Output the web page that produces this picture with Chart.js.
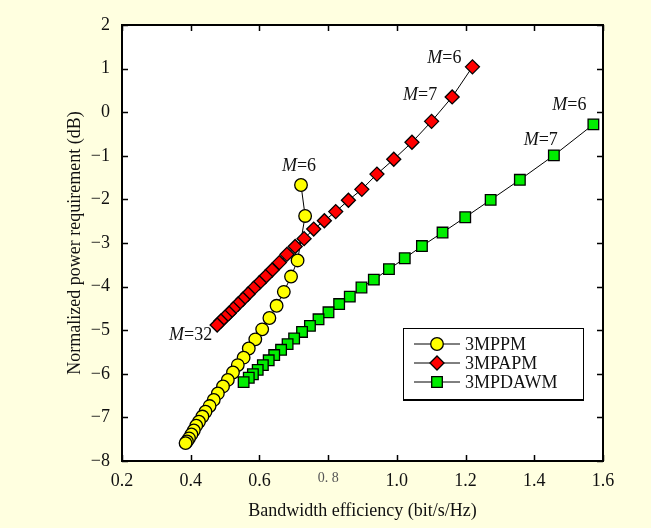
<!DOCTYPE html>
<html><head><meta charset="utf-8">
<script src="https://cdn.jsdelivr.net/npm/chart.js@4"></script>
<style>html,body{margin:0;padding:0;background:#ffffe0;}canvas{display:block;}</style>
</head><body>
<canvas id="c" width="651" height="528"></canvas>
<script>
// ---- data (M = 6 ... 32) ----
const seriesNames = ['3MPPM', '3MPAPM', '3MPDAWM'];
const ppmX = [0.721, 0.733, 0.711, 0.692, 0.671, 0.650, 0.629, 0.608, 0.588, 0.569, 0.554, 0.537, 0.523, 0.508, 0.494, 0.479, 0.467, 0.455, 0.443, 0.434, 0.424, 0.416, 0.409, 0.402, 0.395, 0.389, 0.385];
const ppmY = [-1.67, -2.38, -3.40, -3.77, -4.12, -4.44, -4.72, -4.98, -5.21, -5.42, -5.63, -5.80, -5.97, -6.14, -6.29, -6.45, -6.60, -6.74, -6.87, -6.98, -7.10, -7.19, -7.30, -7.39, -7.48, -7.55, -7.59];
const apmX = [1.220, 1.161, 1.101, 1.044, 0.991, 0.942, 0.898, 0.859, 0.822, 0.789, 0.758, 0.730, 0.704, 0.680, 0.658, 0.637, 0.618, 0.600, 0.583, 0.567, 0.552, 0.538, 0.524, 0.512, 0.500, 0.488, 0.477];
const apmY = [1.04, 0.35, -0.21, -0.69, -1.08, -1.42, -1.77, -2.02, -2.28, -2.49, -2.68, -2.90, -3.08, -3.26, -3.45, -3.62, -3.77, -3.91, -4.04, -4.17, -4.29, -4.40, -4.51, -4.61, -4.70, -4.79, -4.88];
const dawX = [1.572, 1.457, 1.358, 1.273, 1.199, 1.133, 1.073, 1.023, 0.977, 0.933, 0.897, 0.863, 0.832, 0.801, 0.772, 0.747, 0.724, 0.701, 0.682, 0.663, 0.643, 0.627, 0.610, 0.595, 0.581, 0.569, 0.554];
const dawY = [-0.28, -0.99, -1.55, -2.01, -2.41, -2.76, -3.07, -3.35, -3.60, -3.84, -4.02, -4.23, -4.40, -4.59, -4.75, -4.90, -5.04, -5.19, -5.32, -5.45, -5.57, -5.69, -5.80, -5.91, -6.01, -6.09, -6.19];
const xTickLabels = ['0.2', '0.4', '0.6', '0. 8', '1.0', '1.2', '1.4', '1.6'];
const yTickLabels = ['−8', '−7', '−6', '−5', '−4', '−3', '−2', '−1', '0', '1', '2'];
const xTitle = 'Bandwidth efficiency (bit/s/Hz)';
const yTitle = 'Normalized power requirement (dB)';
const notes = [
  {ds: 0, i: 0, n: '6', dx: -2, dy: -19, align: 'center'},
  {ds: 1, i: 0, n: '6', dx: -11, dy: -9, align: 'right'},
  {ds: 1, i: 1, n: '7', dx: -15, dy: -2, align: 'right'},
  {ds: 1, i: 26, n: '32', dx: -5, dy: 10, align: 'right'},
  {ds: 2, i: 0, n: '6', dx: -7, dy: -19, align: 'right'},
  {ds: 2, i: 1, n: '7', dx: 4, dy: -15, align: 'right'}
];

const SERIF = "'Liberation Serif','Times New Roman',serif";
const pts = (xs, ys) => xs.map((x, k) => ({x: x, y: ys[k]}));

const framePlugin = {
  id: 'frame',
  beforeDraw(chart) {
    const {ctx, chartArea: a, width, height} = chart;
    ctx.save();
    ctx.fillStyle = '#ffffe0';
    ctx.fillRect(0, 0, width, height);
    ctx.fillStyle = '#ffffff';
    ctx.fillRect(a.left, a.top, a.right - a.left, a.bottom - a.top);
    ctx.restore();
  },
  afterDraw(chart) {
    const {ctx, chartArea: a, scales} = chart;
    ctx.save();
    ctx.strokeStyle = '#000';
    ctx.lineWidth = 1.5;
    const L = 6;
    ctx.beginPath();
    scales.x.ticks.forEach((t, k) => {
      const px = Math.round(scales.x.getPixelForTick(k)) + 0.5;
      ctx.moveTo(px, a.bottom); ctx.lineTo(px, a.bottom - L);
      ctx.moveTo(px, a.top); ctx.lineTo(px, a.top + L);
    });
    scales.y.ticks.forEach((t, k) => {
      const py = Math.round(scales.y.getPixelForTick(k)) + 0.5;
      ctx.moveTo(a.left, py); ctx.lineTo(a.left + L, py);
      ctx.moveTo(a.right, py); ctx.lineTo(a.right - L, py);
    });
    ctx.stroke();
    ctx.lineWidth = 2;
    ctx.strokeRect(a.left, a.top, a.right - a.left, a.bottom - a.top);

    // annotations
    ctx.fillStyle = '#111';
    ctx.textBaseline = 'middle';
    notes.forEach(nt => {
      const el = chart.getDatasetMeta(nt.ds).data[nt.i];
      const fI = 'italic 18px ' + SERIF, fR = '18px ' + SERIF;
      ctx.font = fI; const wM = ctx.measureText('M').width;
      ctx.font = fR; const wN = ctx.measureText('=' + nt.n).width;
      const w = wM + wN;
      let x0 = el.x + nt.dx;
      if (nt.align === 'right') x0 -= w; else if (nt.align === 'center') x0 -= w / 2;
      const y0 = el.y + nt.dy;
      ctx.textAlign = 'left';
      ctx.font = fI; ctx.fillText('M', x0, y0);
      ctx.font = fR; ctx.fillText('=' + nt.n, x0 + wM, y0);
    });

    // legend
    const lx = a.right - 200, ly = a.top + 303, lw = 180, lh = 72;
    ctx.fillStyle = '#fff';
    ctx.fillRect(lx, ly, lw, lh);
    ctx.lineWidth = 1;
    ctx.strokeStyle = '#000';
    ctx.strokeRect(lx + 0.5, ly + 0.5, lw, lh);
    ctx.lineWidth = 2;
    ctx.beginPath(); ctx.moveTo(lx, ly + lh); ctx.lineTo(lx + lw, ly + lh); ctx.stroke();
    chart.data.datasets.forEach((ds, k) => {
      const ry = ly + 16 + k * 19;
      ctx.lineWidth = 1;
      ctx.strokeStyle = '#000';
      ctx.beginPath(); ctx.moveTo(lx + 11, ry); ctx.lineTo(lx + 57, ry); ctx.stroke();
      ctx.fillStyle = ds.pointBackgroundColor;
      ctx.strokeStyle = '#000';
      ctx.lineWidth = ds.pointBorderWidth;
      Chart.helpers.drawPoint(ctx, {pointStyle: ds.pointStyle, rotation: 0, radius: ds.pointRadius, borderWidth: ds.pointBorderWidth}, lx + 34, ry);
      ctx.fillStyle = '#111';
      ctx.font = '18px ' + SERIF;
      ctx.textAlign = 'left';
      ctx.textBaseline = 'middle';
      ctx.fillText(ds.label, lx + 62, ry + 1);
    });
    ctx.restore();
  }
};

const mk = (label, xs, ys, style, r, bg, order) => ({
  label: label, data: pts(xs, ys), showLine: true, borderColor: '#000', borderWidth: 1,
  pointStyle: style, pointRadius: r, pointBackgroundColor: bg, pointBorderColor: '#000',
  pointBorderWidth: 1.3, order: order
});

Chart.defaults.font.family = SERIF;
Chart.defaults.color = '#111';

new Chart(document.getElementById('c'), {
  type: 'scatter',
  data: {
    datasets: [
      mk(seriesNames[0], ppmX, ppmY, 'circle', 6.3, '#ffff00', 3),
      mk(seriesNames[1], apmX, apmY, 'rectRot', 7, '#ff0000', 1),
      mk(seriesNames[2], dawX, dawY, 'rect', 7.5, '#00ee00', 2)
    ]
  },
  options: {
    responsive: false,
    animation: false,
    events: [],
    layout: {padding: {top: 25, right: 48, left: 0, bottom: 0}},
    plugins: {legend: {display: false}, tooltip: {enabled: false}},
    scales: {
      x: {
        type: 'linear', min: 0.2, max: 1.6,
        grid: {display: false, drawTicks: false},
        border: {display: false},
        afterFit: s => { s.height = 67; },
        ticks: {
          stepSize: 0.2, padding: 9, maxRotation: 0, autoSkip: false,
          callback: (v, k) => xTickLabels[k],
          font: c => c.index === 3 ? {size: 14, family: SERIF} : {size: 18, family: SERIF},
          color: c => c.index === 3 ? '#555' : '#111'
        },
        title: {display: true, text: xTitle, font: {size: 18, family: SERIF}, color: '#111', padding: {top: 0, bottom: 6}}
      },
      y: {
        type: 'linear', min: -8, max: 2,
        grid: {display: false, drawTicks: false},
        border: {display: false},
        afterFit: s => { s.width = 122; },
        ticks: {
          stepSize: 1, padding: 12, autoSkip: false,
          callback: (v, k) => yTickLabels[k],
          font: {size: 18, family: SERIF}, color: '#111'
        },
        title: {display: true, text: yTitle, font: {size: 18, family: SERIF}, color: '#111', padding: {top: 64, bottom: 0}}
      }
    }
  },
  plugins: [framePlugin]
});
</script>
</body></html>
